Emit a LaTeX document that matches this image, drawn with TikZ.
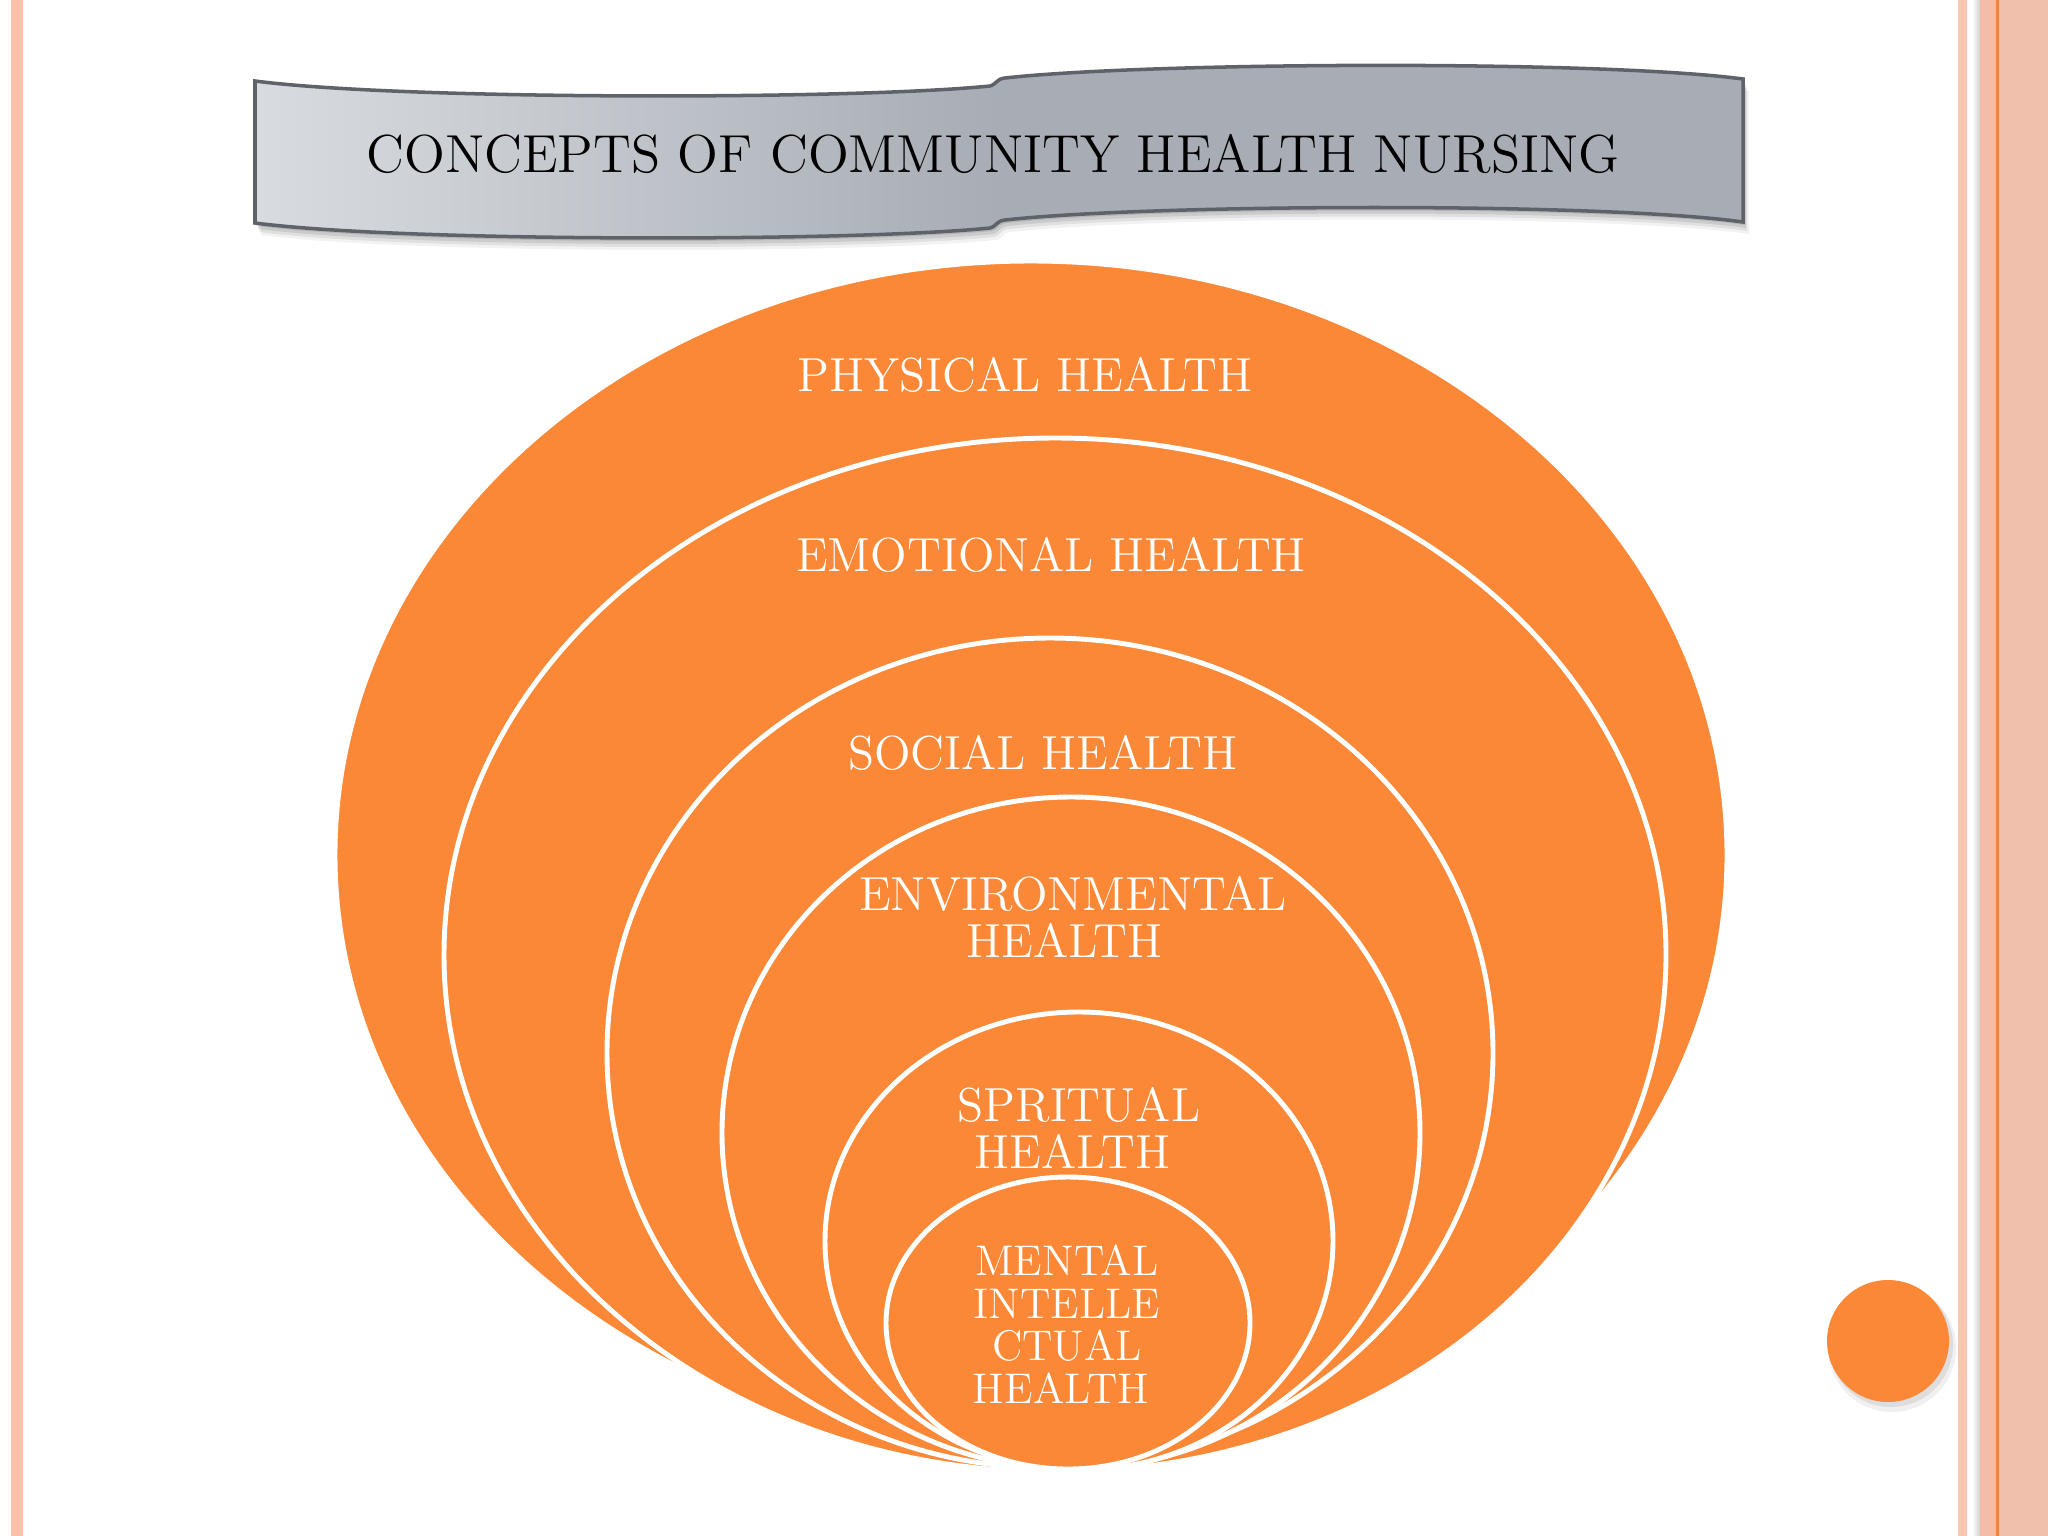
\documentclass[tikz,border=0pt]{standalone}
\usepackage{fontspec}
\definecolor{orng}{RGB}{250,136,54}
\definecolor{bannerL}{RGB}{216,220,224}
\definecolor{bannerR}{RGB}{168,173,181}
\definecolor{bannerEdge}{RGB}{95,98,104}
\definecolor{stripeA}{RGB}{253,193,169}
\definecolor{stripeB}{RGB}{252,198,177}
\definecolor{stripeC}{RGB}{244,189,168}
\definecolor{stripeD}{RGB}{238,133,71}
\definecolor{stripeE}{RGB}{240,192,173}
\pgfdeclarehorizontalshading{bannershade}{100bp}{color(0bp)=(bannerL); color(25bp)=(bannerL); color(50bp)=(bannerR); color(100bp)=(bannerR)}
\begin{document}
\begin{tikzpicture}[x=0.01cm,y=-0.01cm,
  ring/.style={fill=orng, draw=white, line width=1.4pt},
  lbl/.style={text=white, inner sep=0pt, align=center, font=\fontsize{13.6}{13.4}\selectfont},
  smalllbl/.style={text=white, inner sep=0pt, align=center, font=\fontsize{12.2}{12.1}\selectfont}]
\useasboundingbox (0,0) rectangle (2048,1536);
\fill[white] (0,0) rectangle (2048,1536);
% side stripes
\fill[stripeA] (11,0) rectangle (23,1536);
\fill[stripeB] (1958,0) rectangle (1967,1536);
\shade[left color=white, right color=black!18] (1972,0) rectangle (1980,1536);
\fill[stripeC] (1980,0) rectangle (1996,1536);
\fill[stripeD] (1996,0) rectangle (1998.5,1536);
\fill[stripeE] (1998.5,0) rectangle (2048,1536);
% banner shadow
\foreach \dx/\dy/\op in {6/12/0.05,4/9/0.07,3/6/0.09,2/3/0.1}{
  \fill[black, opacity=\op, shift={(\dx,\dy)}]
    (255,81) .. controls (400,100) and (850,100) .. (990,86)
    .. controls (997,84) and (996,79) .. (1005,78)
    .. controls (1150,62) and (1600,60) .. (1743,79)
    -- (1743,222)
    .. controls (1600,202) and (1150,204) .. (1005,220)
    .. controls (996,221) and (997,226) .. (990,228)
    .. controls (850,242) and (400,242) .. (255,223) -- cycle;
}
% banner
\path[draw=bannerEdge, line width=1pt, shading=bannershade]
    (255,81) .. controls (400,100) and (850,100) .. (990,86)
    .. controls (997,84) and (996,79) .. (1005,78)
    .. controls (1150,62) and (1600,60) .. (1743,79)
    -- (1743,222)
    .. controls (1600,202) and (1150,204) .. (1005,220)
    .. controls (996,221) and (997,226) .. (990,228)
    .. controls (850,242) and (400,242) .. (255,223) -- cycle;
\node[inner sep=0pt, scale=1.028, font=\fontsize{14.8}{17}\selectfont] (title) at (993,154) {CONCEPTS OF COMMUNITY HEALTH NURSING};
% nested ellipses
\path[ring] (1031,855) ellipse [x radius=696, y radius=594];
\path[ring] (1055,955) ellipse [x radius=611, y radius=517];
\path[ring] (1050,1053) ellipse [x radius=443, y radius=415];
\path[ring] (1071,1133) ellipse [x radius=349, y radius=336];
\path[ring] (1079,1241) ellipse [x radius=254, y radius=229];
\path[ring] (1068,1323) ellipse [x radius=182, y radius=146];
% labels
\node[lbl] (physical) at (1025,375) {PHYSICAL HEALTH};
\node[lbl] (emotional) at (1051,555) {EMOTIONAL HEALTH};
\node[lbl] (social) at (1043,753) {SOCIAL HEALTH};
\node[lbl] (environmental) at (1073,917) {ENVIRONMENTAL\\HEALTH\hspace*{4.8pt}};
\node[lbl] (spiritual) at (1079,1128) {SPRITUAL\\HEALTH\hspace*{3.7pt}};
\node[smalllbl] (mental) at (1067,1324) {MENTAL\\INTELLE\\CTUAL\\HEALTH\hspace*{3.4pt}};
% corner circle
\fill[black, opacity=0.06] (1892,1348) circle [radius=64];
\fill[black, opacity=0.08] (1891,1345) circle [radius=62];
\fill[orng] (1888,1341) circle [radius=61];
\end{tikzpicture}
\end{document}
